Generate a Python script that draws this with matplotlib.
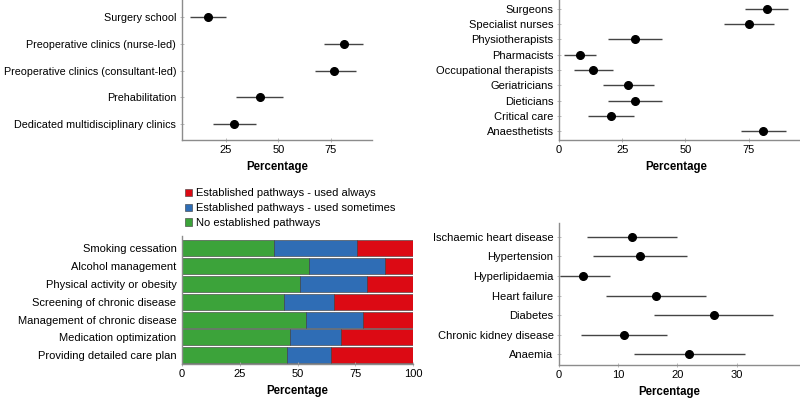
import matplotlib
matplotlib.use("Agg")
import matplotlib.pyplot as plt
from matplotlib.patches import Patch
import numpy as np

plt.rcParams['font.family'] = ['Liberation Sans', 'DejaVu Sans']
plt.rcParams['font.size'] = 8.0

# ---- Panel A: preoperative services ----
services = ["Surgery school", "Preoperative clinics (nurse-led)",
            "Preoperative clinics (consultant-led)", "Prehabilitation",
            "Dedicated multidisciplinary clinics"]
services_pct = [16.7, 81.1, 76.7, 41.5, 28.9]
services_lo = [8.2, 71.8, 67.5, 30.0, 19.0]
services_hi = [25.3, 90.4, 86.9, 52.4, 39.3]

# ---- Panel B: staff ----
staff = ["Surgeons", "Specialist nurses", "Physiotherapists", "Pharmacists",
         "Occupational therapists", "Geriatricians", "Dieticians",
         "Critical care", "Anaesthetists"]
staff_pct = [82.1, 75.1, 30.0, 8.3, 13.6, 27.3, 30.0, 20.6, 80.8]
staff_lo = [73.5, 65.2, 19.5, 2.1, 5.8, 17.3, 19.5, 11.6, 72.1]
staff_hi = [90.6, 85.0, 40.8, 14.5, 21.2, 37.5, 40.8, 29.6, 89.6]

# ---- Panel C: pathways ----
pathways = ["Smoking cessation", "Alcohol management",
            "Physical activity or obesity", "Screening of chronic disease",
            "Management of chronic disease", "Medication optimization",
            "Providing detailed care plan"]
no_pathway = [39.8, 54.8, 50.9, 44.0, 53.5, 46.6, 45.5]
used_sometimes = [35.7, 33.1, 28.9, 21.9, 24.8, 22.0, 18.9]
used_always = [24.5, 12.1, 20.2, 34.1, 21.7, 31.4, 35.6]
legend_labels = ["Established pathways - used always",
                 "Established pathways - used sometimes",
                 "No established pathways"]

# ---- Panel D: conditions ----
conditions = ["Ischaemic heart disease", "Hypertension", "Hyperlipidaemia",
              "Heart failure", "Diabetes", "Chronic kidney disease", "Anaemia"]
cond_pct = [12.3, 13.7, 4.05, 16.4, 26.1, 11.0, 22.0]
cond_lo = [4.8, 5.8, 0.2, 7.9, 16.0, 3.7, 12.6]
cond_hi = [20.0, 21.6, 8.6, 24.9, 36.1, 18.2, 31.4]

RED, BLUE, GREEN = '#dc0a14', '#2f6db5', '#3ca33a'
SPINE = '#8c8c8c'

W, H = 800, 398
fig = plt.figure(figsize=(W / 100, H / 100), dpi=100)


def add_ax(l, r, t, b):
    return fig.add_axes([l / W, 1 - b / H, (r - l) / W, (b - t) / H])


def style(ax, label_x=0.5):
    for s in ['top', 'right']:
        ax.spines[s].set_visible(False)
    for s in ['left', 'bottom']:
        ax.spines[s].set_color(SPINE)
        ax.spines[s].set_linewidth(1.0)
    ax.tick_params(axis='both', direction='inout', length=3.5, width=0.6,
                   color='#b0b0b0', labelsize=8.0, labelcolor='black')
    ax.tick_params(axis='y', pad=2.2)
    ax.tick_params(axis='x', pad=1.8)
    ax.set_xlabel("Percentage", fontweight='bold', fontsize=8.3, labelpad=4.5)
    ax.xaxis.label.set_x(label_x)


def forest(ax, labels, pct, lo, hi, label_x=0.5):
    y = np.arange(len(labels))
    ax.hlines(y, lo, hi, color='#444444', linewidth=1.0)
    ax.plot(pct, y, 'o', color='black', markersize=5.5)
    ax.set_yticks(y)
    ax.set_yticklabels(labels)
    style(ax, label_x)


# Panel A
axA = add_ax(181.5, 372, 0, 140)
forest(axA, services, services_pct, services_lo, services_hi)
axA.tick_params(axis='y', labelsize=7.75)
axA.set_xticks([25, 50, 75])
rngA = max(services_hi) - min(services_lo)
axA.set_xlim(min(services_lo) - 0.05 * rngA, max(services_hi) + 0.05 * rngA)
axA.set_ylim(4.58, -0.62)

# Panel B
axB = add_ax(559, 800, 0, 140)
forest(axB, staff, staff_pct, staff_lo, staff_hi, label_x=0.487)
axB.set_xticks([0, 25, 50, 75])
axB.set_xlim(0, 95.3)
axB.set_ylim(8.59, -0.59)

# Panel C
axC = add_ax(182, 413.3, 235.7, 364)
yC = np.arange(len(pathways))
left = np.zeros(len(pathways))
for vals, col in [(no_pathway, GREEN), (used_sometimes, BLUE), (used_always, RED)]:
    axC.barh(yC, vals, left=left, height=0.9, color=col,
             edgecolor='#3a3a3a', linewidth=0.4)
    left = left + np.array(vals)
axC.set_yticks(yC)
axC.set_yticklabels(pathways)
axC.set_xticks([0, 25, 50, 75, 100])
axC.set_xlim(0, 100)
axC.set_ylim(6.5, -0.71)
style(axC)
axC.tick_params(axis='y', length=0, pad=4)
handles = [Patch(facecolor=c, edgecolor='#3a3a3a', linewidth=0.4) for c in (RED, BLUE, GREEN)]
fig.legend(handles, legend_labels, loc='upper left',
           bbox_to_anchor=(185 / W, 1 - 188.5 / H), frameon=False,
           handlelength=0.65, handleheight=0.65, handletextpad=0.3,
           labelspacing=0.42, borderpad=0, borderaxespad=0, fontsize=8.0)

# Panel D
axD = add_ax(559, 800, 223.3, 365)
forest(axD, conditions, cond_pct, cond_lo, cond_hi, label_x=0.458)
axD.set_xticks([0, 10, 20, 30])
axD.set_xlim(0, 40.7)
axD.set_ylim(6.56, -0.7)

fig.savefig("out.png", dpi=100)
